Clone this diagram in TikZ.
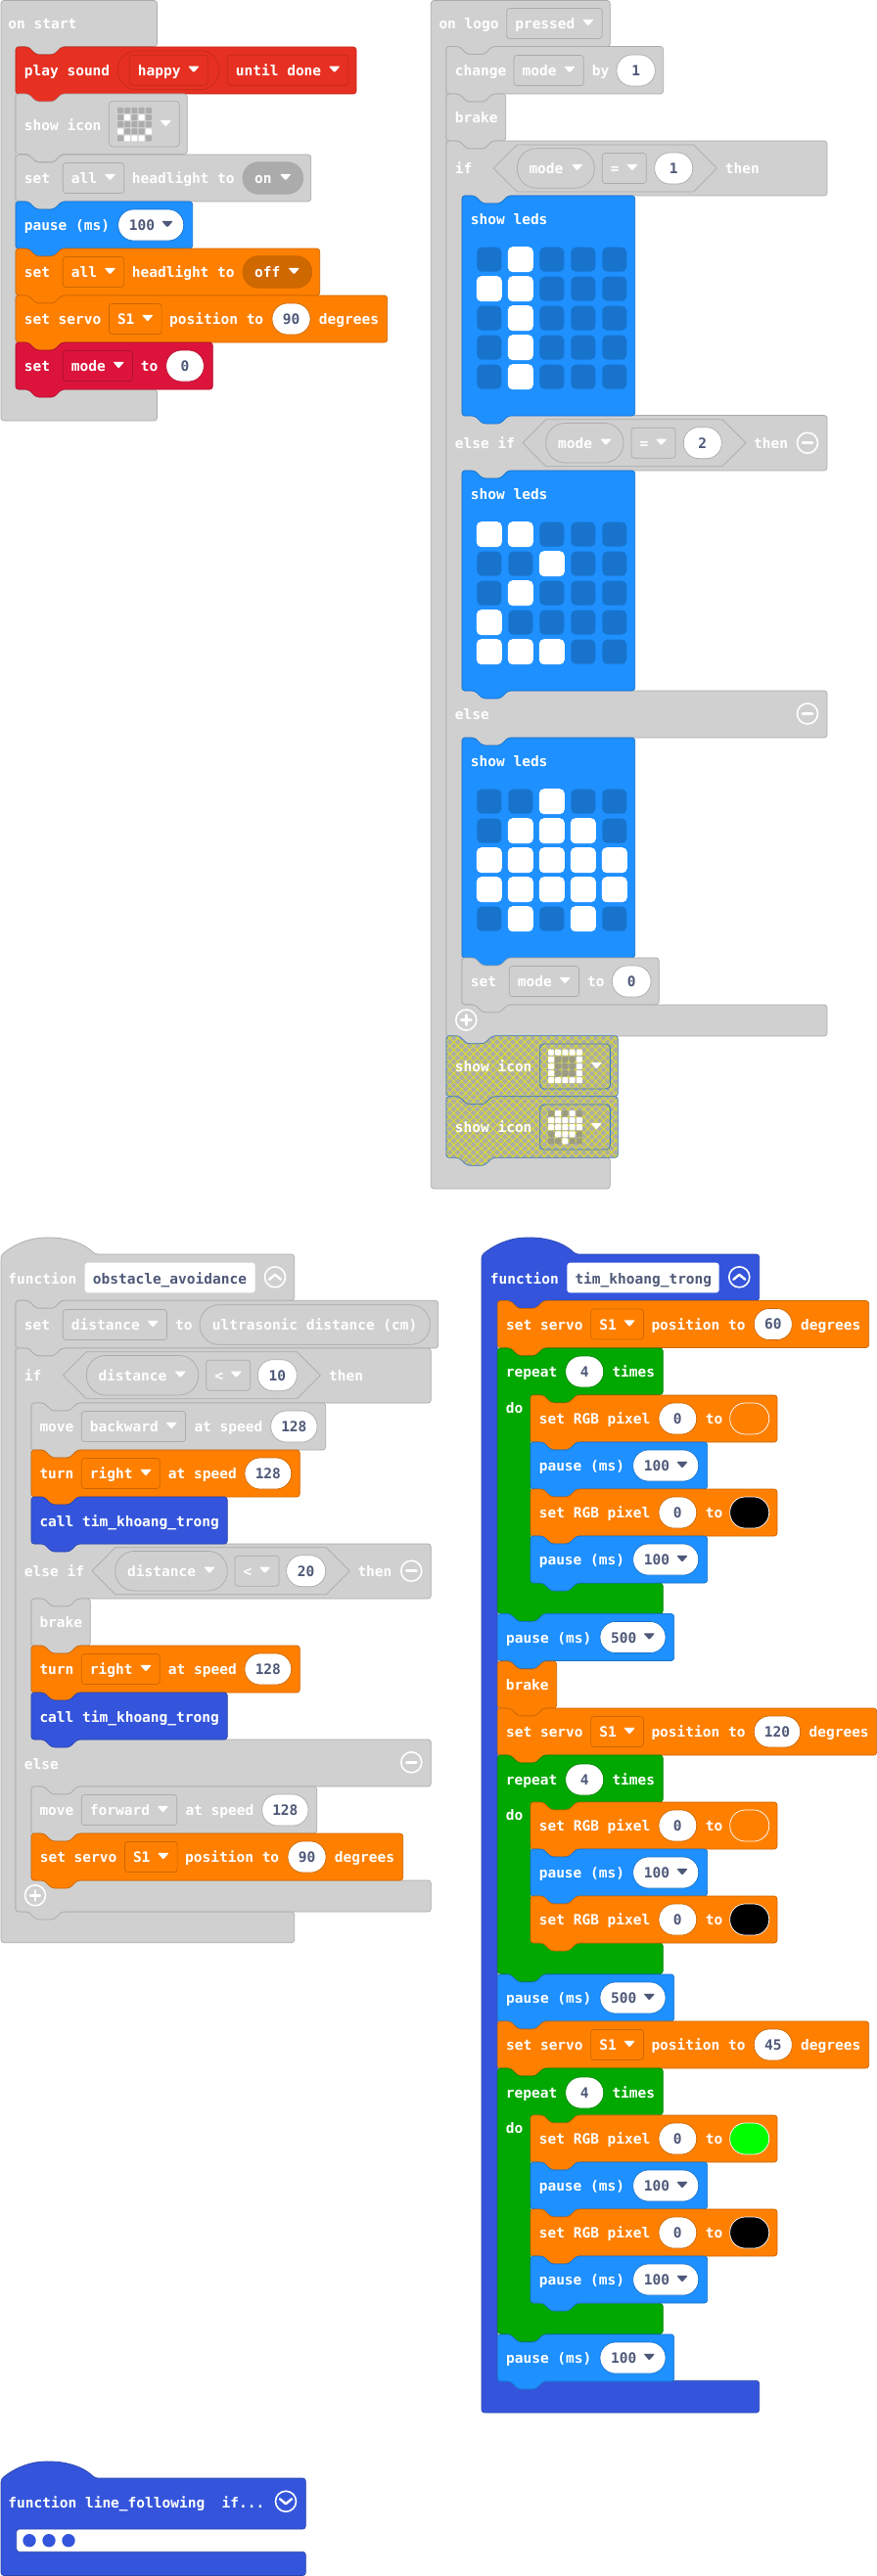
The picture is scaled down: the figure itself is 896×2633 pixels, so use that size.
\documentclass[tikz,border=0pt]{standalone}
\usepackage{fontspec}
\setmainfont{DejaVu Sans Mono}
\usetikzlibrary{patterns.meta}
\definecolor{grayF}{HTML}{D0D0D0}\definecolor{grayS}{HTML}{ABABAB}
\definecolor{redF}{HTML}{E63022}\definecolor{redS}{HTML}{C42A1D}
\definecolor{bluF}{HTML}{1E90FF}\definecolor{bluS}{HTML}{1873CC}
\definecolor{orgF}{HTML}{FF8000}\definecolor{orgS}{HTML}{CC6600}
\definecolor{crmF}{HTML}{DC143C}\definecolor{crmS}{HTML}{B01030}
\definecolor{fncF}{HTML}{3455DB}\definecolor{fncS}{HTML}{2A44AF}
\definecolor{grnF}{HTML}{00A800}\definecolor{grnS}{HTML}{008700}
\definecolor{hatS}{HTML}{3F7DBE}\definecolor{hatF}{HTML}{ADADA6}\definecolor{hatL}{HTML}{DCDC30}
\definecolor{slate}{HTML}{4E5878}\definecolor{iconDim}{HTML}{ACACAC}\definecolor{hatDim}{HTML}{9C9C80}
\definecolor{offPill}{HTML}{D06800}\definecolor{onPill}{HTML}{ABABAB}
\newcount\bkcnt
\tikzset{
  bline/.style={line width=0.7pt,rounded corners=3pt,line join=round},
  lbl/.style={inner sep=0pt,anchor=base west,yshift=-5.8pt,text=white,font=\fontsize{14.5}{16}\selectfont\bfseries},
  numlbl/.style={inner sep=0pt,anchor=base,yshift=-5.4pt,text=slate,font=\fontsize{14.5}{16}\selectfont\bfseries},
  fieldlbl/.style={lbl,text=slate}
}
\newcommand\bkT[3]{\global\advance\bkcnt by 1 \node[lbl] (t\the\bkcnt) at ({#1},{#2}) {#3};}
\newcommand\bkS[3]{\global\advance\bkcnt by 1 \node[fieldlbl] (t\the\bkcnt) at ({#1},{#2}) {#3};}
\newcommand\bkC[3]{\global\advance\bkcnt by 1 \node[numlbl] (t\the\bkcnt) at ({#1},{#2}) {#3};}
% statement block path
\newcommand\bkPath[4]{(#1,#2) -- ({#1+13},#2) -- ({#1+21},{#2+8}) -- ({#1+39},{#2+8}) -- ({#1+47},#2) -- (#3,#2) -- (#3,#4) -- ({#1+47},#4) -- ({#1+39},{#4+8}) -- ({#1+21},{#4+8}) -- ({#1+13},#4) -- (#1,#4) -- cycle}
\newcommand\bkBlk[5]{\gdef\curS{#5S}\draw[bline,draw=#5S,fill=#5F] \bkPath{#1}{#2}{#3}{#4};}
\newcommand\bkHatch[4]{\gdef\curS{hatS}%
  \fill[bline,fill=hatF] \bkPath{#1}{#2}{#3}{#4};
  \fill[bline,pattern={Lines[angle=45,distance=5.7pt,line width=.9pt]},pattern color=hatL] \bkPath{#1}{#2}{#3}{#4};
  \fill[bline,pattern={Lines[angle=-45,distance=5.7pt,line width=.9pt]},pattern color=hatL] \bkPath{#1}{#2}{#3}{#4};
  \draw[bline,draw=hatS] \bkPath{#1}{#2}{#3}{#4};}
% inner part of a C
\newcommand\bkInner[5]{(#1,#2) -- ({#3+47},#2) -- ({#3+39},{#2+8}) -- ({#3+21},{#2+8}) -- ({#3+13},#2) -- (#3,#2) -- (#3,#4) -- (#1,#4)}
% event hat: x y r y1 xi y2 y3 theme
\newcommand\bkEvent[8]{\gdef\curS{#8S}\draw[bline,draw=#8S,fill=#8F] (#1,#2) -- (#3,#2) -- \bkInner{#3}{#4}{#5}{#6}{} -- (#3,#7) -- (#1,#7) -- cycle;}
% function hat: x y r y1 xi y2 y3 theme
\newcommand\bkFunc[8]{\gdef\curS{#8S}\draw[bline,draw=#8S,fill=#8F] (#1,{#2+18}) .. controls ({#1+16},{#2+5}) and ({#1+32},#2) .. ({#1+48},#2) .. controls ({#1+66},#2) and ({#1+84},{#2+5}) .. ({#1+96},{#2+17}) -- (#3,{#2+17}) -- \bkInner{#3}{#4}{#5}{#6}{} -- (#3,#7) -- (#1,#7) -- cycle;}
% loop: x y r y1 xi y2 y3 theme
\newcommand\bkLoop[8]{\gdef\curS{#8S}\draw[bline,draw=#8S,fill=#8F] (#1,#2) -- ({#1+13},#2) -- ({#1+21},{#2+8}) -- ({#1+39},{#2+8}) -- ({#1+47},#2) -- (#3,#2) -- \bkInner{#3}{#4}{#5}{#6}{} -- (#3,#7) -- ({#1+47},#7) -- ({#1+39},{#7+8}) -- ({#1+21},{#7+8}) -- ({#1+13},#7) -- (#1,#7) -- cycle;}
% if/else if/else
\newcommand\bkIf[8]{\def\bkA{#1}\def\bkB{#2}\def\bkR{#3}\def\bkYa{#4}\def\bkYb{#5}\def\bkYc{#6}\def\bkYd{#7}\def\bkYe{#8}\bkIfB}
\newcommand\bkIfB[2]{\pgfmathsetmacro\bkI{\bkA+16}\gdef\curS{grayS}\draw[bline,draw=grayS,fill=grayF] (\bkA,\bkB) -- ({\bkA+13},\bkB) -- ({\bkA+21},{\bkB+8}) -- ({\bkA+39},{\bkB+8}) -- ({\bkA+47},\bkB) -- (\bkR,\bkB) -- \bkInner{\bkR}{\bkYa}{\bkI}{\bkYb}{} -- \bkInner{\bkR}{\bkYc}{\bkI}{\bkYd}{} -- \bkInner{\bkR}{\bkYe}{\bkI}{#1}{} -- (\bkR,#2) -- ({\bkA+47},#2) -- ({\bkA+39},{#2+8}) -- ({\bkA+21},{#2+8}) -- ({\bkA+13},#2) -- (\bkA,#2) -- cycle;}
% arrow
\newcommand\bkArrow[3]{\fill[#3,rounded corners=1pt] ({#1-5.8},{#2-3.6}) -- ({#1+5.8},{#2-3.6}) -- ({#1},{#2+3}) -- cycle;}
% dropdown: x1 yc nchars text
\newcommand\bkDD[4]{\pgfmathsetmacro\bkXb{#1+36.2+8.75*#3}\draw[draw=\curS,line width=.7pt,rounded corners=3pt] ({#1},{#2-15.5}) rectangle (\bkXb,{#2+15.5}); \bkT{#1+8.4}{#2}{#4} \bkArrow{\bkXb-14.3}{#2-.5}{white}}
% white pill with dropdown arrow: x1 x2 yc text
\newcommand\bkPill[4]{\draw[draw=\curS,fill=white,line width=.7pt,rounded corners=15.7pt] ({#1},{#3-16}) rectangle ({#2},{#3+16}); \bkS{#1+11}{#3}{#4} \bkArrow{#2-16.7}{#3-.5}{slate}}
\newcommand\bkNum[4]{\draw[draw=\curS,fill=white,line width=.7pt,rounded corners=15.7pt] ({#1},{#3-16}) rectangle ({#2},{#3+16}); \bkC{(#1+#2)/2}{#3}{#4}}
\newcommand\bkOval[5]{\draw[draw=\curS,fill=#5,line width=.7pt,rounded corners=19.8pt] (#1,{#3-#4}) rectangle (#2,{#3+#4});}
\newcommand\bkHex[6]{\draw[draw=grayS,fill=grayF,line width=.7pt,line join=round] (#1,#5) -- (#2,{#5-24}) -- (#3,{#5-24}) -- (#4,#5) -- (#3,{#5+24}) -- (#2,{#5+24}) -- cycle;}
\newcommand\bkMinus[2]{\draw[white,line width=1.6pt] (#1,#2) circle (10.5pt); \draw[white,line width=2.8pt,line cap=round] ({#1-5},#2) -- ({#1+5},#2);}
\newcommand\bkPlus[2]{\draw[white,line width=1.6pt] (#1,#2) circle (10.5pt); \draw[white,line width=2.8pt,line cap=round] ({#1-5},#2) -- ({#1+5},#2) (#1,{#2-5}) -- (#1,{#2+5});}
\newcommand\bkChev[3]{\draw[white,line width=1.6pt] (#1,#2) circle (10.5pt); \draw[white,line width=2.4pt,line cap=round,line join=round] ({#1-6},{#2+#3*2.5}) -- (#1,{#2-#3*2.5}) -- ({#1+6},{#2+#3*2.5});}
% LED grid of "show leds"
\newcommand\bkLeds[3]{\foreach \v [count=\k from 0] in {#3} {%
  \pgfmathtruncatemacro\cc{mod(\k,5)}\pgfmathtruncatemacro\rr{\k/5}%
  \ifnum\v=1 \fill[white,rounded corners=5pt] ({#1+14.8+32*\cc},{#2+52.2+30*\rr}) rectangle ++(26,26);
  \else \fill[bluS,rounded corners=5pt] ({#1+15.3+32*\cc},{#2+52.7+30*\rr}) rectangle ++(25,25); \fi}}
% small icon
\newcommand\bkIcon[4]{\foreach \v [count=\k from 0] in {#3} {%
  \pgfmathtruncatemacro\cc{mod(\k,5)}\pgfmathtruncatemacro\rr{\k/5}%
  \ifnum\v=1 \fill[white,rounded corners=.8pt] ({#1+7.2*\cc},{#2+7.1*\rr}) rectangle ++(6,6);
  \else \fill[#4,rounded corners=.8pt] ({#1+7.2*\cc},{#2+7.1*\rr}) rectangle ++(6,6); \fi}}
% repeated rows
\newcommand\bkServo[6]{\bkBlk{#1}{#2}{#3}{#2+48}{org}\bkRowServo{#1}{#2+24}{#4}{#5}{#6}}
\newcommand\bkRowServo[5]{\bkT{#1+8.6}{#2}{set servo}\bkDD{#1+95.4}{#2}{2}{S1}\bkT{#1+157}{#2}{position to}\bkNum{#1+262}{#1+262+#4}{#2}{#3}\bkT{#1+262+#4+8.7}{#2}{degrees}}
\newcommand\bkPause[5]{\bkBlk{#1}{#2}{#3}{#2+48}{blu}\bkT{#1+8.6}{#2+24}{pause (ms)}\bkPill{#1+104.7}{#1+171.7}{#2+24}{#4}}
\newcommand\bkRGB[3]{\bkBlk{542}{#1}{794}{#1+48}{org}\bkT{550.7}{#1+24}{set RGB pixel}\bkNum{673}{711.7}{#1+24}{0}\bkT{720.7}{#1+24}{to}\draw[draw=white,fill=#2,line width=.7pt,rounded corners=15.7pt] (745.7,{#1+8}) rectangle (785.7,{#1+40});}
\begin{document}
\begin{tikzpicture}[x=1pt,y=-1pt]
\useasboundingbox (0,0) rectangle (896,2633);
\fill[white] (0,0) rectangle (896,2633);
%% ON START
\bkEvent{1}{.5}{160.5}{47.5}{16}{398}{430}{gray}
\bkT{8.3}{24}{on start}
\bkBlk{16}{48}{364}{96}{red}
\bkT{24.7}{72}{play sound}
\bkOval{120}{224}{71.7}{20}{none}
\bkDD{132.3}{71.7}{5}{happy}
\bkDD{232.3}{71.7}{10}{until done}
\bkBlk{16}{96}{191.3}{157.5}{gray}
\bkT{24.7}{127.5}{show icon}
\draw[draw=grayS,line width=.7pt,rounded corners=4pt] (111.3,103.3) rectangle (183.3,150);
\bkIcon{120}{110}{0,0,0,0,0, 0,1,0,1,0, 0,0,0,0,0, 1,0,0,0,1, 0,1,1,1,0}{iconDim}
\bkArrow{169.3}{126.5}{white}
\bkBlk{16}{158}{317.7}{206}{gray}
\bkT{24.7}{182}{set}
\bkDD{64.3}{182}{3}{all}
\bkT{134.7}{182}{headlight to}
\draw[draw=grayS,fill=onPill,line width=.7pt,rounded corners=16pt] (248,165.7) rectangle (309.7,198.3);
\bkT{260}{182}{on}
\bkArrow{291.7}{181.5}{white}
\bkPause{16}{206}{196.7}{100}{}
\bkBlk{16}{254}{326.7}{302}{org}
\bkT{24.7}{278}{set}
\bkDD{64.3}{278}{3}{all}
\bkT{134.7}{278}{headlight to}
\draw[draw=orgS,fill=offPill,line width=.7pt,rounded corners=16pt] (248,261.7) rectangle (318.7,294.3);
\bkT{260}{278}{off}
\bkArrow{300.3}{277.5}{white}
\bkBlk{16}{302}{395.7}{350}{org}
\bkRowServo{16}{326}{90}{39}{}
\bkBlk{16}{350}{217.3}{398}{crm}
\bkT{24.7}{374}{set}
\bkDD{64.3}{374}{4}{mode}
\bkT{143.7}{374}{to}
\bkNum{169.7}{208.3}{374}{0}
%% ON LOGO
\bkEvent{440.3}{.5}{623.3}{47.5}{456}{1183.3}{1215}{gray}
\bkT{448.3}{24}{on logo}
\bkDD{517.7}{24}{7}{pressed}
\bkBlk{456}{47.5}{677.7}{96}{gray}
\bkT{464.7}{72}{change}
\bkDD{525}{72}{4}{mode}
\bkT{604.7}{72}{by}
\bkNum{630}{669.3}{72}{1}
\bkBlk{456}{96}{516.7}{144}{gray}
\bkT{464.7}{120}{brake}
\bkIf{456}{144}{845}{200}{424.5}{481}{706}{754}{1027}{1059}
\bkT{464.7}{172}{if}
\bkHex{504}{528.3}{708.7}{732.3}{172}{}
\bkOval{528.3}{607.3}{172}{20.3}{none}
\bkT{540.3}{172}{mode}
\bkArrow{589.7}{171.5}{white}
\bkDD{615.3}{172}{1}{=}
\bkNum{668.7}{707.7}{172}{1}
\bkT{740.7}{172}{then}
\bkT{464.7}{452.7}{else if}
\bkHex{534}{557.7}{738}{762}{452.7}{}
\bkOval{557.7}{637}{452.7}{20.3}{none}
\bkT{570}{452.7}{mode}
\bkArrow{619}{452.2}{white}
\bkDD{645}{452.7}{1}{=}
\bkNum{698.3}{737.3}{452.7}{2}
\bkT{770}{452.7}{then}
\bkMinus{825}{452.7}
\bkT{464.7}{730}{else}
\bkMinus{825}{729.5}
\bkBlk{472}{200}{648.7}{425}{blu}
\bkT{480.7}{224}{show leds}
\bkLeds{472}{200}{0,1,0,0,0, 1,1,0,0,0, 0,1,0,0,0, 0,1,0,0,0, 0,1,0,0,0}
\bkBlk{472}{481}{648.7}{706}{blu}
\bkT{480.7}{505}{show leds}
\bkLeds{472}{481}{1,1,0,0,0, 0,0,1,0,0, 0,1,0,0,0, 1,0,0,0,0, 1,1,1,0,0}
\bkBlk{472}{754}{648.7}{979}{blu}
\bkT{480.7}{778}{show leds}
\bkLeds{472}{754}{0,0,1,0,0, 0,1,1,1,0, 1,1,1,1,1, 1,1,1,1,1, 0,1,0,1,0}
\bkBlk{472}{979}{673.3}{1026.7}{gray}
\bkT{480.7}{1003}{set}
\bkDD{520.3}{1003}{4}{mode}
\bkT{600}{1003}{to}
\bkNum{625.3}{665}{1003}{0}
\bkPlus{476.3}{1042.5}
\bkHatch{456}{1058.7}{631.3}{1120.7}
\bkT{464.7}{1090}{show icon}
\draw[draw=hatS,line width=.9pt,rounded corners=4pt] (551.7,1067) rectangle (623.3,1113);
\bkIcon{560}{1072.7}{1,1,1,1,1, 1,0,0,0,1, 1,0,0,0,1, 1,0,0,0,1, 1,1,1,1,1}{hatDim}
\bkArrow{609.3}{1089.5}{white}
\bkHatch{456}{1120.7}{631.3}{1183.3}
\bkT{464.7}{1152}{show icon}
\draw[draw=hatS,line width=.9pt,rounded corners=4pt] (551.7,1129) rectangle (623.3,1175);
\bkIcon{560}{1135}{0,1,0,1,0, 1,1,1,1,1, 1,1,1,1,1, 0,1,1,1,0, 0,0,1,0,0}{hatDim}
\bkArrow{609.3}{1151.5}{white}
%% OBSTACLE AVOIDANCE
\bkFunc{1}{1265}{300.7}{1329.3}{16}{1954}{1985.7}{gray}
\bkT{8.3}{1307}{function}
\fill[white,rounded corners=3pt] (86.7,1290.7) rectangle (260.7,1321.3);
\bkS{94.7}{1307}{obstacle\_avoidance}
\bkChev{281}{1305.3}{1}
\bkBlk{16}{1329.3}{447.7}{1378}{gray}
\bkT{24.7}{1354}{set}
\bkDD{64.3}{1354}{8}{distance}
\bkT{179}{1354}{to}
\bkOval{204}{439.3}{1354}{20.3}{none}
\bkT{216.7}{1354}{ultrasonic distance (cm)}
\bkIf{16}{1378}{440.3}{1434}{1578}{1634}{1778}{1826}{1922}{1954}
\bkT{24.7}{1406}{if}
\bkHex{64.3}{88.3}{303.3}{327.3}{1405.7}{}
\bkOval{88.3}{202.7}{1405.7}{20.3}{none}
\bkT{100.3}{1405.7}{distance}
\bkArrow{184.3}{1405.2}{white}
\bkDD{210.7}{1405.7}{1}{<}
\bkNum{263.3}{303.3}{1405.7}{10}
\bkT{336}{1405.7}{then}
\bkT{24.7}{1606}{else if}
\bkHex{94}{117.7}{333.3}{357.3}{1605.7}{}
\bkOval{117.7}{232.3}{1605.7}{20.3}{none}
\bkT{130}{1605.7}{distance}
\bkArrow{214}{1605.2}{white}
\bkDD{240}{1605.7}{1}{<}
\bkNum{292.7}{332.7}{1605.7}{20}
\bkT{365.3}{1605.7}{then}
\bkMinus{420.3}{1605.7}
\bkT{24.7}{1803}{else}
\bkMinus{420.3}{1801.3}
\bkBlk{32}{1434}{332.7}{1482}{gray}
\bkT{40.3}{1458}{move}
\bkDD{83.3}{1458}{8}{backward}
\bkT{198.3}{1458}{at speed}
\bkNum{276.7}{324}{1458}{128}
\bkBlk{32}{1482}{306.3}{1530}{org}
\bkT{40.3}{1506}{turn}
\bkDD{83.3}{1506}{5}{right}
\bkT{171.7}{1506}{at speed}
\bkNum{250}{297.7}{1506}{128}
\bkBlk{32}{1530}{232.3}{1578}{fnc}
\bkT{40.3}{1554.5}{call tim\_khoang\_trong}
\bkBlk{32}{1634}{92.3}{1682}{gray}
\bkT{40.3}{1658}{brake}
\bkBlk{32}{1682}{306.3}{1730}{org}
\bkT{40.3}{1706}{turn}
\bkDD{83.3}{1706}{5}{right}
\bkT{171.7}{1706}{at speed}
\bkNum{250}{297.7}{1706}{128}
\bkBlk{32}{1730}{232.3}{1778}{fnc}
\bkT{40.3}{1754.5}{call tim\_khoang\_trong}
\bkBlk{32}{1826}{323.7}{1874}{gray}
\bkT{40.3}{1850}{move}
\bkDD{83.3}{1850}{7}{forward}
\bkT{189.3}{1850}{at speed}
\bkNum{267.7}{315}{1850}{128}
\bkBlk{32}{1874}{411.7}{1922}{org}
\bkRowServo{32}{1898}{90}{39}{}
\bkPlus{36}{1937.3}
%% TIM KHOANG TRONG
\bkFunc{492}{1265}{775.7}{1329.3}{508.3}{2433.3}{2466}{fnc}
\bkT{500.7}{1307}{function}
\fill[white,rounded corners=3pt] (579.3,1290.7) rectangle (734.7,1321.3);
\bkS{587.3}{1307}{tim\_khoang\_trong}
\bkChev{755.3}{1305.3}{1}
\bkServo{508.3}{1329.5}{887.7}{60}{39}{}
%
\bkLoop{508.3}{1378}{677.3}{1425.5}{542}{1618}{1649.3}{grn}
\bkT{516.7}{1402}{repeat}
\bkNum{577.7}{616.7}{1402}{4}
\bkT{625.3}{1402}{times}
\bkT{516.7}{1438.5}{do}
\bkRGB{1426}{orgF}{}
\bkPause{542}{1474}{722.7}{100}{}
\bkRGB{1522}{black}{}
\bkPause{542}{1570}{722.7}{100}{}
\bkPause{508.3}{1649.5}{688.7}{500}{}
\bkBlk{508.3}{1698}{568.7}{1746}{org}
\bkT{516.7}{1722}{brake}
\bkServo{508.3}{1746}{895.7}{120}{47.4}{}
%
\bkLoop{508.3}{1794}{677.3}{1842}{542}{1986}{2017.5}{grn}
\bkT{516.7}{1819}{repeat}
\bkNum{577.7}{616.7}{1819}{4}
\bkT{625.3}{1819}{times}
\bkT{516.7}{1855}{do}
\bkRGB{1842}{orgF}{}
\bkPause{542}{1890}{722.7}{100}{}
\bkRGB{1938}{black}{}
\bkPause{508.3}{2018}{688.7}{500}{}
\bkServo{508.3}{2066}{887.7}{45}{39}{}
%
\bkLoop{508.3}{2114}{677.3}{2161.7}{542}{2354.3}{2385.5}{grn}
\bkT{516.7}{2139}{repeat}
\bkNum{577.7}{616.7}{2139}{4}
\bkT{625.3}{2139}{times}
\bkT{516.7}{2175}{do}
\bkRGB{2162}{green}{}
\bkPause{542}{2210}{722.7}{100}{}
\bkRGB{2258}{black}{}
\bkPause{542}{2306}{722.7}{100}{}
\bkPause{508.3}{2386}{688.7}{100}{}
%% LINE FOLLOWING (collapsed)
\draw[bline,draw=fncS,fill=fncF] (1,2534) .. controls (17,2521) and (33,2516) .. (49,2516) .. controls (67,2516) and (85,2521) .. (97,2533) -- (312.3,2533) -- (312.3,2585) -- (16.7,2585) -- (16.7,2608.3) -- (312.3,2608.3) -- (312.3,2632.5) -- (1,2632.5) -- cycle;
\bkT{8.3}{2558}{function line\_following~~if...}
\bkChev{292}{2556.7}{-1}
\fill[fncF] (30,2596.7) circle (6.7pt) (50,2596.7) circle (6.7pt) (70,2596.7) circle (6.7pt);
\end{tikzpicture}
\end{document}
